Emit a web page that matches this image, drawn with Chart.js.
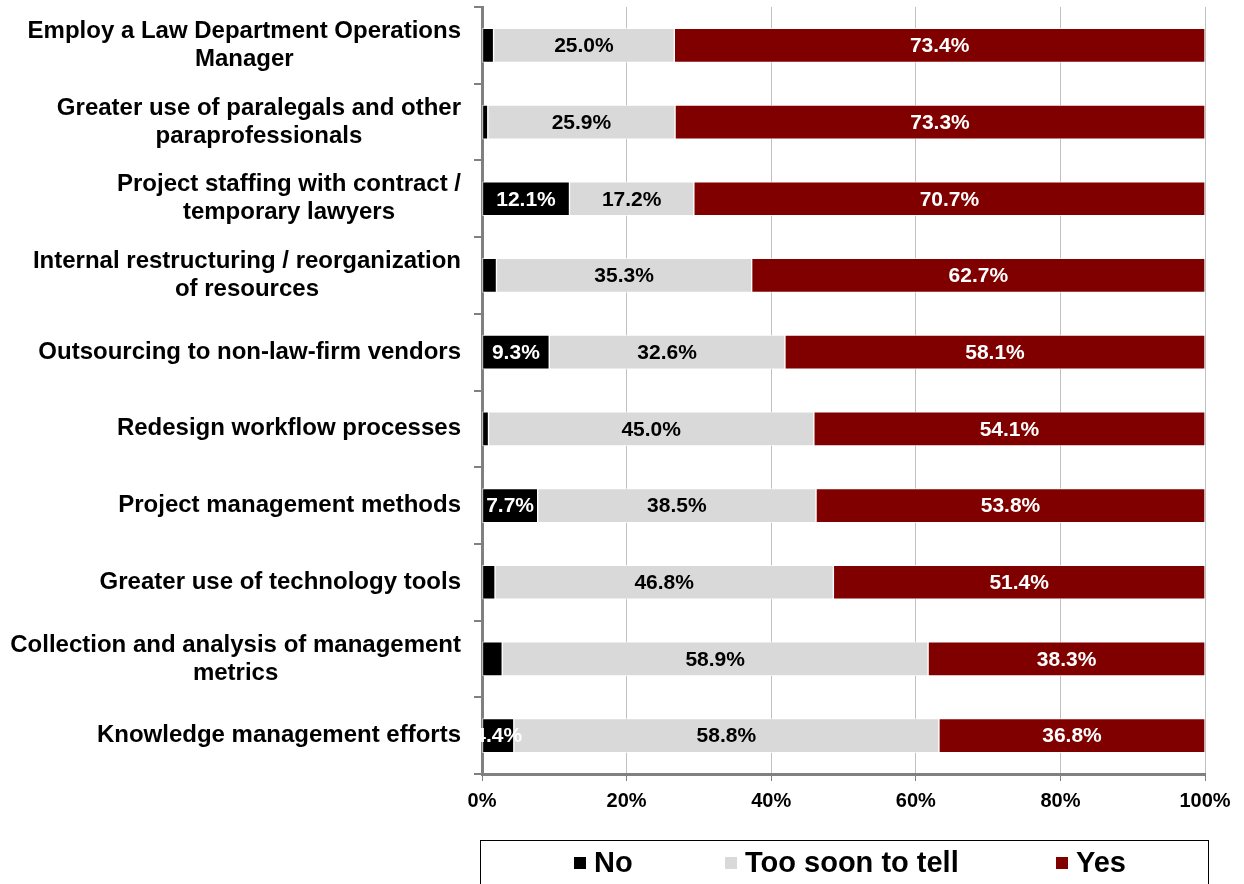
<!DOCTYPE html>
<html><head><meta charset="utf-8">
<script src="https://cdn.jsdelivr.net/npm/chart.js@4"></script>
<style>
html,body{margin:0;padding:0;background:#fff;}
#wrap{position:relative;width:1244px;height:884px;overflow:hidden;}
#legend{position:absolute;left:480px;top:840px;width:729px;height:60px;border:1.5px solid #000;box-sizing:border-box;font:bold 29px "Liberation Sans",Arial,sans-serif;color:#000;}
.item{position:absolute;top:5px;display:flex;align-items:center;white-space:nowrap;}
.sw{width:12px;height:12px;margin-right:8px;}
</style></head><body>
<div id="wrap"><canvas id="c" width="1244" height="884"></canvas>
<div id="legend"></div></div>
<script>
const categories = [
  ["Employ a Law Department Operations","Manager"],
  ["Greater use of paralegals and other","paraprofessionals"],
  ["Project staffing with contract /","temporary lawyers"],
  ["Internal restructuring / reorganization","of resources"],
  ["Outsourcing to non-law-firm vendors"],
  ["Redesign workflow processes"],
  ["Project management methods"],
  ["Greater use of technology tools"],
  ["Collection and analysis of management","metrics"],
  ["Knowledge management efforts"]
];
const seriesNames = ["No","Too soon to tell","Yes"];
const noValues =    [1.6, 0.8, 12.1, 2.0, 9.3, 0.9, 7.7, 1.8, 2.8, 4.4];
const tooSoonValues=[25.0,25.9,17.2,35.3,32.6,45.0,38.5,46.8,58.9,58.8];
const yesValues =   [73.4,73.3,70.7,62.7,58.1,54.1,53.8,51.4,38.3,36.8];
const xTicks = [0,20,40,60,80,100];
const colors = ["#000000","#d9d9d9","#800000"];
const labelColors = ["#ffffff","#000000","#ffffff"];

const FONT = '"Liberation Sans", Arial, sans-serif';

const labelPlugin = {
  id:'labels',
  afterDatasetsDraw(chart){
    const ctx = chart.ctx;
    ctx.save();
    ctx.font = 'bold 21px ' + FONT;
    ctx.textAlign='center'; ctx.textBaseline='middle';
    chart.data.datasets.forEach((ds,i)=>{
      const meta = chart.getDatasetMeta(i);
      meta.data.forEach((bar,j)=>{
        const v = ds.data[j];
        if (v < 4) return;
        ctx.fillStyle = labelColors[i];
        ctx.fillText(v.toFixed(1)+'%', (bar.x+bar.base)/2, bar.y+1);
      });
    });
    ctx.restore();
  },
  afterDraw(chart){
    const ctx = chart.ctx;
    const ys = chart.scales.y;
    ctx.save();
    ctx.font = 'bold 24px ' + FONT;
    ctx.fillStyle = '#000';
    ctx.textAlign='center'; ctx.textBaseline='middle';
    const right = chart.chartArea.left - 21;
    const lh = 28;
    categories.forEach((lines,j)=>{
      const w = Math.max(...lines.map(l=>ctx.measureText(l).width));
      const cx = right - w/2;
      const yc = ys.getPixelForValue(j);
      const y0 = yc - (lines.length-1)*lh/2;
      lines.forEach((l,k)=>ctx.fillText(l, cx, y0 + k*lh));
    });
    ctx.restore();
  }
};

const vals = [noValues, tooSoonValues, yesValues];
new Chart(document.getElementById('c'), {
  type:'bar',
  data:{
    labels: categories,
    datasets: seriesNames.map((n,i)=>({
      label:n, data:vals[i], backgroundColor:colors[i],
      borderColor:'rgba(255,255,255,0.7)', borderWidth:1, borderSkipped:false,
      barThickness:34
    }))
  },
  options:{
    indexAxis:'y', responsive:false, animation:false,
    layout:{padding:{top:7,right:39,left:0,bottom:0}},
    plugins:{legend:{display:false}, tooltip:{enabled:false}},
    scales:{
      x:{
        stacked:true, min:0, max:100,
        afterBuildTicks(s){ s.ticks = xTicks.map(v=>({value:v})); },
        ticks:{callback:v=>v+'%', color:'#000', font:{family:FONT, weight:'bold', size:20}, padding:8, maxRotation:0},
        grid:{color:(c)=> c.tick && c.tick.value===0 ? 'rgba(0,0,0,0)' : '#c0c0c0', lineWidth:1, tickLength:7, tickColor:'#808080', drawTicks:true},
        border:{color:'#808080', width:3},
        afterFit(s){ s.height = 110; }
      },
      y:{
        stacked:true,
        ticks:{display:false},
        grid:{display:true, drawOnChartArea:false, offset:true, tickLength:8, color:'#808080', lineWidth:2},
        border:{color:'#808080', width:3},
        afterFit(s){ s.width = 482; }
      }
    }
  },
  plugins:[labelPlugin]
});

const legend = document.getElementById('legend');
const lpos = [93, 244, 575];
seriesNames.forEach((n,i)=>{
  const d = document.createElement('div');
  d.className='item'; d.style.left = lpos[i]+'px';
  d.innerHTML = '<div class="sw" style="background:'+colors[i]+'"></div><span>'+n+'</span>';
  legend.appendChild(d);
});
</script>
</body></html>
